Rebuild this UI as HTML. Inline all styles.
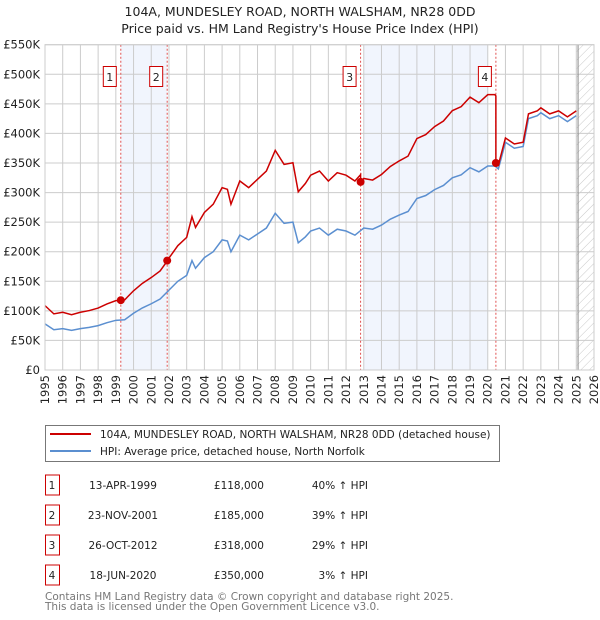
<!DOCTYPE html>
<html><head><meta charset="utf-8"><style>
body{margin:0;background:#fff;}
svg{display:block;font-family:"DejaVu Sans","Liberation Sans",sans-serif;}
</style></head><body>
<svg id="c" width="600" height="620" viewBox="0 0 600 620">
<defs><pattern id="hatch" width="6" height="6" patternUnits="userSpaceOnUse" patternTransform="rotate(45)"><line x1="0" y1="0" x2="0" y2="6" stroke="#bbb" stroke-width="0.8"/></pattern></defs>
<text x="300" y="16" text-anchor="middle" font-size="12.5" fill="#222">104A, MUNDESLEY ROAD, NORTH WALSHAM, NR28 0DD</text>
<text x="300" y="33" text-anchor="middle" font-size="12.5" fill="#222">Price paid vs. HM Land Registry's House Price Index (HPI)</text>
<g id="plot"></g>
<g>
<rect x="45.5" y="425.5" width="454" height="36" fill="#fff" stroke="#777"/>
<line x1="50" y1="434" x2="91" y2="434" stroke="#cc0000" stroke-width="2"/>
<text x="100" y="438" font-size="10.5" fill="#222">104A, MUNDESLEY ROAD, NORTH WALSHAM, NR28 0DD (detached house)</text>
<line x1="50" y1="451" x2="91" y2="451" stroke="#5b8fd0" stroke-width="2"/>
<text x="100" y="455" font-size="10.5" fill="#222">HPI: Average price, detached house, North Norfolk</text>
</g>
<g id="table" font-size="10.5" fill="#222"></g>
<text x="45" y="600" font-size="10.5" fill="#777">Contains HM Land Registry data © Crown copyright and database right 2025.</text>
<text x="45" y="610" font-size="10.5" fill="#777">This data is licensed under the Open Government Licence v3.0.</text>
</svg>
<script>
const hpiYears=[1995,1995.5,1996,1996.5,1997,1997.5,1998,1998.5,1999,1999.5,2000,2000.5,2001,2001.5,2002,2002.5,2003,2003.3,2003.5,2004,2004.5,2005,2005.3,2005.5,2006,2006.5,2007,2007.5,2008,2008.5,2009,2009.3,2009.7,2010,2010.5,2011,2011.5,2012,2012.5,2013,2013.5,2014,2014.5,2015,2015.5,2016,2016.5,2017,2017.5,2018,2018.5,2019,2019.5,2020,2020.4,2020.6,2021,2021.5,2022,2022.3,2022.8,2023,2023.5,2024,2024.5,2025];
const hpiValues=[78,68,70,67,70,72,75,80,84,85,96,105,112,120,135,150,160,185,172,190,200,220,218,200,228,220,230,240,265,248,250,215,225,235,240,228,238,235,228,240,238,245,255,262,268,290,295,305,312,325,330,342,335,345,345,340,385,375,378,425,430,435,425,430,420,430];
const saleYears=[1999.28,2001.9,2012.82,2020.46];
const salePrices=[118,185,318,350];
const saleLabels=["1","2","3","4"];
const saleDates=["13-APR-1999","23-NOV-2001","26-OCT-2012","18-JUN-2020"];
const salePriceText=["£118,000","£185,000","£318,000","£350,000"];
const saleHpiText=["40% ↑ HPI","39% ↑ HPI","29% ↑ HPI","3% ↑ HPI"];
const yTicks=[0,50,100,150,200,250,300,350,400,450,500,550];
const xTicks=[1995,1996,1997,1998,1999,2000,2001,2002,2003,2004,2005,2006,2007,2008,2009,2010,2011,2012,2013,2014,2015,2016,2017,2018,2019,2020,2021,2022,2023,2024,2025,2026];

const X0=45,X1=594,Y0=370,Y1=44.7;
const xs=y=>X0+(y-1995)/(2026-1995)*(X1-X0);
const ys=v=>Y0-v/550*(Y0-Y1);
const NS="http://www.w3.org/2000/svg";
function mk(tag,attrs,parent){const e=document.createElementNS(NS,tag);for(const k in attrs)e.setAttribute(k,attrs[k]);parent.appendChild(e);return e;}
function hpiAt(t){for(let i=0;i<hpiYears.length-1;i++){if(t>=hpiYears[i]&&t<=hpiYears[i+1]){const f=(t-hpiYears[i])/(hpiYears[i+1]-hpiYears[i]);return hpiValues[i]+f*(hpiValues[i+1]-hpiValues[i]);}}return hpiValues[hpiValues.length-1];}
const plot=document.getElementById('plot');
let sh=mk('rect',{x:xs(saleYears[0]),y:Y1,width:xs(saleYears[1])-xs(saleYears[0]),height:Y0-Y1,fill:'#eef3fc',opacity:0.8},plot);


sh=mk('rect',{x:xs(2013),y:Y1,width:xs(2020)-xs(2013),height:Y0-Y1,fill:'#eef3fc',opacity:0.8},plot);


const ht=mk('rect',{x:xs(2025),y:Y1,width:X1-xs(2025),height:Y0-Y1,fill:'url(#hatch)'},plot);


yTicks.forEach(v=>{const l=mk('line',{x1:X0,x2:X1,y1:ys(v),y2:ys(v),stroke:'#ccc','stroke-width':1},plot);


const t=mk('text',{x:X0-5,y:ys(v)+4,'text-anchor':'end','font-size':11.5,fill:'#222'},plot);t.textContent=v===0?'£0':'£'+v+'K';

});
xTicks.forEach(y=>{const l=mk('line',{x1:xs(y),x2:xs(y),y1:Y1,y2:Y0,stroke:'#ccc','stroke-width':1},plot);


const t=mk('text',{x:0,y:0,'text-anchor':'end','font-size':11.5,fill:'#222',transform:`translate(${xs(y)+4},${Y0+5}) rotate(-90)`},plot);t.textContent=y;

});
const dl=mk('line',{x1:xs(2025.1),x2:xs(2025.1),y1:Y1,y2:Y0,stroke:'#888','stroke-width':1},plot);


saleYears.forEach((s,i)=>{const l=mk('line',{x1:xs(s),x2:xs(s),y1:Y1,y2:Y0,stroke:'#e05050','stroke-width':1,'stroke-dasharray':'2,2'},plot);


const r=mk('rect',{x:xs(s)-17.5,y:66.5,width:13,height:20,fill:'#fff',stroke:'#cc0000'},plot);


const t=mk('text',{x:xs(s)-11,y:81,'text-anchor':'middle','font-size':11,fill:'#222'},plot);t.textContent=saleLabels[i];

});
const pts=hpiYears.map((y,i)=>xs(y)+','+ys(hpiValues[i])).join(' ');
const hl=mk('polyline',{points:pts,fill:'none',stroke:'#5b8fd0','stroke-width':1.5},plot);


function ratioAt(t){let k=0;for(let i=0;i<saleYears.length;i++)if(t>=saleYears[i])k=i;return salePrices[k]/hpiAt(saleYears[k]);}
let times=hpiYears.slice();saleYears.forEach(s=>{times.push(s-0.001);times.push(s);});times.sort((a,b)=>a-b);
const rp=times.map(t=>xs(t)+','+ys(hpiAt(t)*ratioAt(t))).join(' ');
const rl=mk('polyline',{points:rp,fill:'none',stroke:'#cc0000','stroke-width':1.5},plot);


saleYears.forEach((s,i)=>{const c=mk('circle',{cx:xs(s),cy:ys(salePrices[i]),r:4,fill:'#cc0000'},plot);

});
mk('rect',{x:X0,y:Y1,width:X1-X0,height:Y0-Y1,fill:'none',stroke:'#ccc'},plot);
const tb=document.getElementById('table');
saleYears.forEach((s,i)=>{const cy=485+i*30;
const r=mk('rect',{x:45.5,y:cy-10,width:14,height:20,fill:'#fff',stroke:'#cc0000'},tb);


const cells=[[52,'middle',saleLabels[i],'table-num'],[123,'middle',saleDates[i],'table-date'],[264,'end',salePriceText[i],'table-price'],[368,'end',saleHpiText[i],'table-hpi']];
cells.forEach(c=>{const t=mk('text',{x:c[0],y:cy+4,'text-anchor':c[1]},tb);t.textContent=c[2];

});});
</script>
</body></html>
